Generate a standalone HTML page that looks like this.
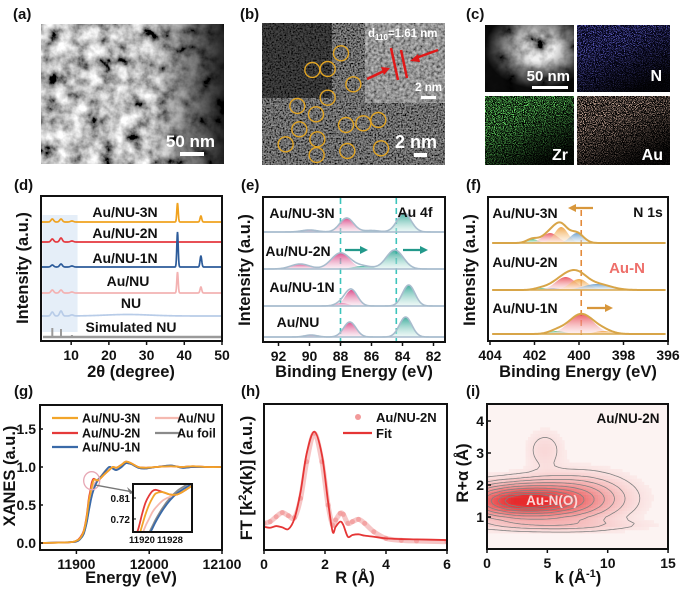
<!DOCTYPE html>
<html><head><meta charset="utf-8">
<style>
html,body{margin:0;padding:0;background:#fff;width:681px;height:591px;overflow:hidden}
svg{font-family:"Liberation Sans",Arial,sans-serif;font-weight:bold;display:block;overflow:hidden}
</style></head><body>
<svg id="fig" xmlns="http://www.w3.org/2000/svg" width="681" height="591" viewBox="0 0 681 591">
<defs>
 <filter id="fA" x="0" y="0" width="1" height="1"><feTurbulence type="fractalNoise" baseFrequency="0.07" numOctaves="4" seed="3"/><feColorMatrix type="matrix" values="1.8 0 0 0 -0.4  1.8 0 0 0 -0.4  1.8 0 0 0 -0.4  0 0 0 0 1"/></filter>
 <filter id="fB" x="0" y="0" width="1" height="1"><feTurbulence type="fractalNoise" baseFrequency="0.6" numOctaves="2" seed="5"/><feColorMatrix type="matrix" values="0.7 0 0 0 -0.2  0.7 0 0 0 -0.2  0.7 0 0 0 -0.2  0 0 0 0 1"/></filter>
 <filter id="fB2" x="0" y="0" width="1" height="1"><feTurbulence type="fractalNoise" baseFrequency="0.35" numOctaves="2" seed="8"/><feColorMatrix type="matrix" values="0.8 0 0 0 -0.1  0.8 0 0 0 -0.1  0.8 0 0 0 -0.1  0 0 0 0 1"/></filter>
 <filter id="fC" x="0" y="0" width="1" height="1"><feTurbulence type="fractalNoise" baseFrequency="0.06" numOctaves="4" seed="2"/><feColorMatrix type="matrix" values="2 0 0 0 -0.4  2 0 0 0 -0.4  2 0 0 0 -0.4  0 0 0 0 1"/></filter>
 <filter id="fN" x="0" y="0" width="1" height="1"><feTurbulence type="fractalNoise" baseFrequency="1.1" numOctaves="1" seed="11"/><feColorMatrix type="matrix" values="0 0 0 0 0.15  0 0 0 0 0.15  0 0 0 0 0.75  7 0 0 0 -3.6"/></filter>
 <filter id="fZ" x="0" y="0" width="1" height="1"><feTurbulence type="fractalNoise" baseFrequency="1.1" numOctaves="1" seed="4"/><feColorMatrix type="matrix" values="0 0 0 0 0.15  0 0 0 0 0.85  0 0 0 0 0.15  7 0 0 0 -3.3"/></filter>
 <filter id="fU" x="0" y="0" width="1" height="1"><feTurbulence type="fractalNoise" baseFrequency="1.1" numOctaves="1" seed="7"/><feColorMatrix type="matrix" values="0 0 0 0 0.75  0 0 0 0 0.5  0 0 0 0 0.4  7 0 0 0 -3.4"/></filter>
 <linearGradient id="gAr" x1="0" x2="1" y1="0" y2="0"><stop offset="0.6" stop-color="#000" stop-opacity="0"/><stop offset="1" stop-color="#000" stop-opacity="0.85"/></linearGradient>
 <radialGradient id="gC1" cx="0.6" cy="0.35" r="0.6"><stop offset="0.3" stop-color="#000" stop-opacity="0"/><stop offset="1" stop-color="#000" stop-opacity="0.95"/></radialGradient>
 <linearGradient id="gFade" x1="0" x2="0.6" y1="0" y2="1"><stop offset="0.35" stop-color="#000" stop-opacity="0"/><stop offset="1" stop-color="#000" stop-opacity="0.9"/></linearGradient>
 <linearGradient id="gPink" x1="0" x2="0" y1="0" y2="1"><stop offset="0" stop-color="#d6337a"/><stop offset="1" stop-color="#f6dce8" stop-opacity="0.5"/></linearGradient>
 <linearGradient id="gTeal" x1="0" x2="0" y1="0" y2="1"><stop offset="0" stop-color="#1f9e8c"/><stop offset="1" stop-color="#d8f0ec" stop-opacity="0.5"/></linearGradient>
 <linearGradient id="gRed" x1="0" x2="0" y1="0" y2="1"><stop offset="0" stop-color="#e8404a"/><stop offset="1" stop-color="#fbe0e0" stop-opacity="0.5"/></linearGradient>
 <linearGradient id="gOra" x1="0" x2="0" y1="0" y2="1"><stop offset="0" stop-color="#ee9a2e"/><stop offset="1" stop-color="#fdeedd" stop-opacity="0.5"/></linearGradient>
 <linearGradient id="gBlu" x1="0" x2="0" y1="0" y2="1"><stop offset="0" stop-color="#5b93c4"/><stop offset="1" stop-color="#e2eef8" stop-opacity="0.5"/></linearGradient>
 <linearGradient id="gGrn" x1="0" x2="0" y1="0" y2="1"><stop offset="0" stop-color="#2fae6a"/><stop offset="1" stop-color="#ddf3e6" stop-opacity="0.5"/></linearGradient>
 <clipPath id="clipG"><rect x="133" y="484" width="59" height="48"/></clipPath>
 <clipPath id="clipI"><rect x="487" y="404" width="181" height="145"/></clipPath>
 <clipPath id="clipH"><rect x="264" y="404" width="183" height="146"/></clipPath>
</defs>

<g font-size="15" fill="#111">
 <text x="13" y="19">(a)</text>
 <text x="240" y="19">(b)</text>
 <text x="466" y="19">(c)</text>
 <text x="14" y="190">(d)</text>
 <text x="241" y="190">(e)</text>
 <text x="466" y="190">(f)</text>
 <text x="14" y="396">(g)</text>
 <text x="241" y="396">(h)</text>
 <text x="466" y="396">(i)</text>
</g>

<g>
 <rect x="41" y="24" width="183" height="140" fill="#333" filter="url(#fA)"/>
 <rect x="41" y="24" width="183" height="140" fill="url(#gAr)"/>
 <text x="215" y="147" font-size="17" fill="#fff" text-anchor="end">50 nm</text>
 <rect x="180" y="152" width="24" height="4" fill="#fff"/>
</g>

<g>
 <rect x="262" y="23" width="183" height="142" fill="#222" filter="url(#fB)"/>
 <rect x="262" y="23" width="70" height="75" fill="#000" opacity="0.5"/>
 <rect x="365" y="23" width="80" height="80" fill="#555" filter="url(#fB2)"/>
 <g id="circles" fill="none" stroke="#e2a524" stroke-width="1.4"></g>
 <text x="368" y="37" font-size="11.5" fill="#fff">d<tspan font-size="8" dy="3">110</tspan><tspan dy="-3">=1.61 nm</tspan></text>
 <line x1="391" y1="48" x2="398" y2="80" stroke="#e01818" stroke-width="2.5"/>
 <line x1="401" y1="50" x2="407" y2="78" stroke="#e01818" stroke-width="2.5"/>
 <line x1="367" y1="79" x2="384" y2="71" stroke="#e01818" stroke-width="2.5"/>
 <polygon points="390,68 381,67 384,75" fill="#e01818"/>
 <line x1="438" y1="50" x2="416" y2="58" stroke="#e01818" stroke-width="2.5"/>
 <polygon points="410,61 418,54 420,62" fill="#e01818"/>
 <text x="442" y="91" font-size="11.5" fill="#fff" text-anchor="end">2 nm</text>
 <rect x="421" y="96" width="15" height="3" fill="#fff"/>
 <text x="437" y="148" font-size="18" fill="#fff" text-anchor="end">2 nm</text>
 <rect x="414" y="153" width="13" height="4" fill="#fff"/>
</g>

<g>
 <rect x="485" y="25" width="89" height="67" fill="#000"/>
 <rect x="485" y="25" width="89" height="67" fill="#888" filter="url(#fC)" opacity="0.95"/>
 <rect x="485" y="25" width="89" height="67" fill="url(#gC1)"/>
 <text x="570" y="81" font-size="15" fill="#fff" text-anchor="end">50 nm</text>
 <rect x="532" y="86" width="36" height="3" fill="#fff"/>
 <rect x="577" y="25" width="93" height="67" fill="#05051a"/>
 <rect x="577" y="25" width="93" height="67" filter="url(#fN)"/>
 <rect x="577" y="25" width="93" height="67" fill="url(#gFade)"/>
 <text x="662" y="81" font-size="16" fill="#fff" text-anchor="end">N</text>
 <rect x="485" y="96" width="89" height="69" fill="#000"/>
 <rect x="485" y="96" width="89" height="69" filter="url(#fZ)"/>
 <rect x="485" y="96" width="89" height="69" fill="url(#gFade)"/>
 <text x="568" y="160" font-size="16" fill="#fff" text-anchor="end">Zr</text>
 <rect x="577" y="96" width="93" height="69" fill="#000"/>
 <rect x="577" y="96" width="93" height="69" filter="url(#fU)"/>
 <rect x="577" y="96" width="93" height="69" fill="url(#gFade)"/>
 <text x="663" y="160" font-size="16" fill="#fff" text-anchor="end">Au</text>
</g>

<g id="chartD"></g>
<g id="chartE"></g>
<g id="chartF"></g>
<g id="chartG"></g>
<g id="chartH"></g>
<g id="chartI"></g>

<g font-size="16.5" fill="#111" text-anchor="middle">
 <text transform="translate(28,268) rotate(-90)">Intensity (a.u.)</text>
 <text x="131" y="377">2θ (degree)</text>
 <text transform="translate(250,270) rotate(-90)">Intensity (a.u.)</text>
 <text x="354" y="377">Binding Energy (eV)</text>
 <text transform="translate(475,270) rotate(-90)">Intensity (a.u.)</text>
 <text x="578" y="377">Binding Energy (eV)</text>
 <text transform="translate(15,476) rotate(-90)">XANES (a.u.)</text>
 <text x="131" y="583">Energy (eV)</text>
 <text transform="translate(252,478) rotate(-90)">FT [k<tspan font-size="11" dy="-6">2</tspan><tspan dy="6">x(k)] (a.u.)</tspan></text>
 <text x="355" y="583">R (Å)</text>
 <text transform="translate(468,473) rotate(-90)">R+α (Å)</text>
 <text x="578" y="583">k (Å<tspan font-size="11" dy="-6">-1</tspan><tspan dy="6">)</tspan></text>
</g>
</svg>
<script>
const particleMarks=[[243,100],[157,150],[203,147],[280,193],[203,233],[112,258],[168,283],[118,328],[258,315],[310,310],[355,300],[77,373],[172,358],[170,405],[262,393],[363,385]];
const xrdSeries=['Au/NU-3N','Au/NU-2N','Au/NU-1N','Au/NU','NU','Simulated NU'];
const xrdPeakPos=[5.0,7.3,10.2,38.2,44.4];
const xrdPeakWidth=[0.35,0.35,0.4,0.18,0.22];
const xrd3N=[3,3,1,19,6];
const xrd2N=[3,4,1,0,0];
const xrd1N=[2,3,1,35,11];
const xrdAuNU=[3,3,1,21,6];
const xrdNU=[4,5,1,0,0];
const xrdSim=[9,8,2,0,0];
const xrdOffset=[119,99,74,48,25,4];
const xrdTicks=[10,20,30,40,50];
const e3N=[[90.0,2,0.5,0],[87.6,14,0.45,0],[86.0,1.5,0.5,1],[83.9,19,0.45,1]];
const e2N=[[90.6,5,0.6,0],[88.0,16,0.6,0],[86.6,3,0.6,1],[84.5,19,0.55,1]];
const e1N=[[87.9,3,0.4,0],[87.3,16,0.4,0],[83.6,21,0.4,1]];
const eAuNU=[[89.9,2,0.4,0],[87.4,15,0.4,0],[83.8,20,0.4,1]];
const eLabels=['Au/NU-3N','Au/NU-2N','Au/NU-1N','Au/NU'];
const eOffset=[110,73,36,5];
const eTicks=[92,90,88,86,84,82];
const f3N=[[402.1,4,0.25,0],[401.3,10,0.35,1],[400.8,16,0.3,2],[400.1,10,0.3,3]];
const f2N=[[401.7,2,0.3,0],[401.2,2,0.3,3],[400.6,13,0.45,1],[400.0,11,0.4,2],[399.2,6,0.6,3]];
const f1N=[[401.0,3,0.35,0],[399.9,20,0.55,1],[398.9,3,0.4,2]];
const fLabels=['Au/NU-3N','Au/NU-2N','Au/NU-1N'];
const fOffset=[98,51,7];
const fTicks=[404,402,400,398,396];
const xanesE=[11850,11890,11900,11905,11910,11914,11917,11919,11920,11921,11922,11923,11924,11926,11928,11930,11932,11934,11938,11945,11950,11955,11962,11968,11975,11985,11995,12010,12030,12045,12060,12080,12100];
const xanes2N=[0,.01,.03,.07,.16,.35,.58,.68,.74,.79,.82,.84,.845,.835,.825,.825,.84,.86,.9,.96,1.0,.99,1.03,1.07,1.05,1.0,.99,1.0,1.01,1.0,1.01,1.0,1.0];
const xanes3N=[0,.01,.03,.06,.15,.33,.55,.64,.69,.74,.78,.81,.83,.835,.825,.825,.84,.86,.9,.96,1.0,.99,1.03,1.07,1.05,1.0,.99,1.0,1.01,1.0,1.01,1.0,1.0];
const xanesAuNU=[0,.01,.03,.06,.14,.30,.50,.60,.65,.69,.72,.75,.77,.80,.815,.825,.84,.86,.9,.96,1.0,.99,1.03,1.07,1.05,1.0,.99,1.0,1.01,1.0,1.01,1.0,1.0];
const xanes1N=[0,.01,.02,.05,.12,.26,.42,.52,.57,.61,.65,.68,.71,.76,.80,.83,.85,.87,.92,1.0,.98,.96,1.0,1.05,1.04,.99,.98,1.0,1.02,.99,1.0,1.0,1.0];
const xanesFoil=[0,.01,.02,.05,.12,.27,.44,.54,.59,.63,.66,.69,.72,.77,.81,.84,.86,.88,.93,1.0,.98,.96,1.0,1.05,1.04,.99,.98,1.0,1.02,.99,1.0,1.0,1.0];
const xanesXTicks=[11900,12000,12100];
const xanesYTicks=[0.0,0.5,1.0,1.5];
const insetXTicks=[11920,11928];
const insetYTicks=[0.72,0.81];
const ftR=[0,0.2,0.4,0.6,0.8,1.0,1.2,1.4,1.65,1.9,2.1,2.25,2.35,2.5,2.6,2.75,2.9,3.1,3.3,3.6,4.0,4.5,5,6];
const ftFit=[.136,.127,.142,.130,.115,.212,.455,.803,1.0,.788,.364,.091,.136,.182,.152,.045,.061,.067,.055,.045,.030,.024,.021,.015];
const ftData=[.167,.182,.227,.264,.236,.218,.394,.727,.985,.727,.333,.152,.197,.258,.248,.167,.182,.203,.167,.091,.030,.012,.006,0];
const ftTicks=[0,2,4,6];
const wtK=[3,7.5,4.8,5.5];
const wtR=[1.5,1.6,3.1,0.75];
const wtAmp=[1,0.32,0.08,0.12];
const wtSK=[3,2.6,1.0,4.5];
const wtSR=[0.33,0.45,0.4,0.12];
const wtLevels=[0.05,0.12,0.2,0.3,0.42,0.55,0.68,0.8,0.9];
const wtXTicks=[0,5,10,15];
const wtYTicks=[1,2,3,4];

const NS='http://www.w3.org/2000/svg';
function mk(tag,attrs,parent){const e=document.createElementNS(NS,tag);for(const k in attrs)e.setAttribute(k,attrs[k]);parent.appendChild(e);return e;}
function smooth(p){let d='M'+p[0][0].toFixed(2)+','+p[0][1].toFixed(2);for(let i=0;i<p.length-1;i++){const p0=p[i-1]||p[i],p1=p[i],p2=p[i+1],p3=p[i+2]||p2;const c1=[p1[0]+(p2[0]-p0[0])/6,p1[1]+(p2[1]-p0[1])/6],c2=[p2[0]-(p3[0]-p1[0])/6,p2[1]-(p3[1]-p1[1])/6];d+='C'+c1[0].toFixed(2)+','+c1[1].toFixed(2)+' '+c2[0].toFixed(2)+','+c2[1].toFixed(2)+' '+p2[0].toFixed(2)+','+p2[1].toFixed(2);}return d;}
function poly(p){return 'M'+p.map(q=>q[0].toFixed(2)+','+q[1].toFixed(2)).join('L');}
const gauss=(x,c,s)=>Math.exp(-(x-c)*(x-c)/(2*s*s));
function box(g,x,y,w,h,name){const r=mk('rect',{x:x,y:y,width:w,height:h,fill:'none',stroke:'#111','stroke-width':2},g);

}
function xTicks(g,ticks,sx,y0,fs,name){ticks.forEach(t=>{const x=sx(t);mk('line',{x1:x,y1:y0,x2:x,y2:y0+4,stroke:'#111','stroke-width':1.5},g);const tx=mk('text',{x:x,y:y0+19,'font-size':fs,'text-anchor':'middle',fill:'#111'},g);tx.textContent=String(t);

});}
function yTicks(g,ticks,sy,x0,fs,name,fmt){ticks.forEach(t=>{const y=sy(t);mk('line',{x1:x0,y1:y,x2:x0+4,y2:y,stroke:'#111','stroke-width':1.5},g);const tx=mk('text',{x:x0-3,y:y+5,'font-size':fs,'text-anchor':'end',fill:'#111'},g);tx.textContent=fmt?fmt(t):String(t);

});}
function label(g,x,y,txt,fs,col,anchor,name){const t=mk('text',{x:x,y:y,'font-size':fs,fill:col||'#111','text-anchor':anchor||'middle'},g);t.textContent=txt;

return t;}

const cg0=document.getElementById('circles');
particleMarks.forEach(p=>{const c=mk('circle',{cx:260+p[0]/3,cy:20+p[1]/3,r:7.5},cg0);

});

(function(){const g=document.getElementById('chartD');
const X0=41,X1=222,Y1=341;const sx=v=>X0+(v-2)*(X1-X0)/48;const sy=v=>Y1-v;
const sh=mk('rect',{x:sx(2.4),y:215,width:sx(11.7)-sx(2.4),height:117,fill:'#dce8f6',opacity:0.75},g);


const all=[xrd3N,xrd2N,xrd1N,xrdAuNU,xrdNU,xrdSim];const cols=['#f0a21f','#e5383e','#2c5b9a','#f3b2b2','#b8cce8','#9a9a9a'];
const names=['xrd-curve-3n','xrd-curve-2n','xrd-curve-1n','xrd-curve-aunu','xrd-curve-nu','xrd-simulated'];
all.forEach((h,si)=>{if(si===5){const b=mk('line',{x1:X0+2,y1:sy(xrdOffset[5]),x2:X1-1,y2:sy(xrdOffset[5]),stroke:cols[5],'stroke-width':2.5},g);


xrdPeakPos.forEach((p,i)=>{if(h[i]>0){const s=mk('line',{x1:sx(p),y1:sy(xrdOffset[5]),x2:sx(p),y2:sy(xrdOffset[5]+h[i]),stroke:cols[5],'stroke-width':2},g);

}});return;}
const pts=[];for(let x=2.2;x<=50;x+=0.08){let v=xrdOffset[si];xrdPeakPos.forEach((p,i)=>v+=h[i]*gauss(x,p,xrdPeakWidth[i]));if(si===4)v+=1.5*gauss(x,25,6);pts.push([sx(x),sy(v)]);}
const pa=mk('path',{d:poly(pts),fill:'none',stroke:cols[si],'stroke-width':1.7},g);

});
const ly=[212,233,258,281,303,327];const lx=[125,125,125,128,131,131];
xrdSeries.forEach((s,i)=>label(g,lx[i],ly[i]+5,s,14,'#111','middle','xrd-series-label'));
box(g,X0,196,X1-X0,145,'plot-frame-d');xTicks(g,xrdTicks,sx,Y1,14,'x-tick-label-d');})();

function xps(g,sets,offs,sx,Y1,grads,envCol,envW,names){sets.forEach((comps,si)=>{const base=Y1-offs[si];const xs=[];const [a,b]=sx.dom;for(let x=a;x>=b;x-=0.04)xs.push(x);
comps.forEach(c=>{const pts=xs.map(x=>[sx(x),base-c[1]*gauss(x,c[0],c[2])]).filter((p,i)=>Math.abs(xs[i]-c[0])<3.5*c[2]);const d=poly(pts)+'L'+pts[pts.length-1][0].toFixed(2)+','+base+'L'+pts[0][0].toFixed(2)+','+base+'Z';const pa=mk('path',{d:d,fill:grads[c[3]],opacity:0.85},g);

});
const bl=mk('line',{x1:sx(a),y1:base,x2:sx(b),y2:base,stroke:envCol,'stroke-width':1.6},g);


const env=xs.map(x=>{let v=0;comps.forEach(c=>v+=c[1]*gauss(x,c[0],c[2]));return [sx(x),base-v];});
const ep=mk('path',{d:poly(env),fill:'none',stroke:envCol,'stroke-width':envW},g);

});}
function arrow(g,x1,x2,y,col,name){const dir=Math.sign(x2-x1);const l=mk('line',{x1:x1,y1:y,x2:x2-dir*6,y2:y,stroke:col,'stroke-width':2.2},g);


const p=mk('polygon',{points:x2+','+y+' '+(x2-dir*8)+','+(y-4)+' '+(x2-dir*8)+','+(y+4),fill:col},g);

}

(function(){const g=document.getElementById('chartE');const X0=263,X1=445,Y1=342;
const sx=v=>278.5+(92-v)*15.5;sx.dom=[93,81.3];
[88,84.4].forEach(v=>{const l=mk('line',{x1:sx(v),y1:198,x2:sx(v),y2:Y1,stroke:'#3cc4bb','stroke-width':1.6,'stroke-dasharray':'6,4'},g);

});
xps(g,[e3N,e2N,e1N,eAuNU],eOffset,sx,Y1,['url(#gPink)','url(#gTeal)'],'#a8bccd',1.6,['envelope-3n','envelope-2n','envelope-1n','envelope-aunu']);
const ly=[213,251,287,322];const lx=[302,298,302,298];
eLabels.forEach((s,i)=>label(g,lx[i],ly[i]+5,s,14,'#111','middle','xps-series-label'));
label(g,415,217,'Au 4f',14,'#111','middle','core-level-label');
arrow(g,345,368,250,'#23998b','shift-arrow');arrow(g,403,428,250,'#23998b','shift-arrow');
box(g,X0,197,X1-X0,145,'plot-frame-e');xTicks(g,eTicks,sx,Y1,14,'x-tick-label-e');})();

(function(){const g=document.getElementById('chartF');const X0=488,X1=668,Y1=341;
const sx=v=>490+(404-v)*22.25;sx.dom=[403.9,396.1];
const dl=mk('line',{x1:sx(399.9),y1:210,x2:sx(399.9),y2:335,stroke:'#e38a3a','stroke-width':1.6,'stroke-dasharray':'6,4'},g);


xps(g,[f3N,f2N,f1N],fOffset,sx,Y1,['url(#gGrn)','url(#gRed)','url(#gOra)','url(#gBlu)'],'#d8a548',2,['envelope-3n','envelope-2n','envelope-1n']);
const ly=[213,262,308];fLabels.forEach((s,i)=>label(g,525,ly[i]+5,s,14,'#111','middle','xps-series-label'));
label(g,648,217,'N 1s',14,'#111','middle','core-level-label');
label(g,627,273,'Au-N',15,'#ee6f6a','middle','au-n-annotation');
arrow(g,593,568,208,'#d8973c','shift-arrow');arrow(g,587,613,308,'#d8973c','shift-arrow');
box(g,X0,197,X1-X0,144,'plot-frame-f');xTicks(g,fTicks,sx,Y1,14,'x-tick-label-f');})();

(function(){const g=document.getElementById('chartG');const X0=40,X1=222,Y0=405,Y1=550;
const sx=E=>40+(E-11850)*182/250;const sy=m=>543-m*76;
const series=[[xanesFoil,'#8a8a8a','xanes-au-foil'],[xanesAuNU,'#f5b9b0','xanes-aunu'],[xanes1N,'#3a6aa8','xanes-1n'],[xanes2N,'#e53a3a','xanes-2n'],[xanes3N,'#f2a52a','xanes-3n']];
series.forEach(s=>{const pts=xanesE.map((e,i)=>[sx(e),sy(s[0][i])]);const p=mk('path',{d:smooth(pts),fill:'none',stroke:s[1],'stroke-width':1.8},g);

});
const ring=mk('ellipse',{cx:sx(11921),cy:sy(0.82),rx:8,ry:9,fill:'none',stroke:'#e7a7b4','stroke-width':1.3},g);


const ar=mk('line',{x1:sx(11927),y1:sy(0.76),x2:133,y2:492,stroke:'#777','stroke-width':1.4},g);


mk('polygon',{points:'134,493 127,487 130,494',fill:'#777'},g);
const ix=E=>142+(E-11920)*3.5;const iy=m=>498-(m-0.81)*233;
const ibg=mk('rect',{x:133,y:484,width:59,height:48,fill:'#fff'},g);


const ig=mk('g',{'clip-path':'url(#clipG)'},g);
series.forEach(s=>{const pts=xanesE.map((e,i)=>[ix(e),iy(s[0][i])]);const p=mk('path',{d:smooth(pts),fill:'none',stroke:s[1],'stroke-width':1.8},ig);

});
box(g,133,484,59,48,'inset-frame');
insetXTicks.forEach(t=>{label(g,ix(t),543,String(t),9.5,'#111','middle','inset-x-tick');});
insetYTicks.forEach(t=>{mk('line',{x1:133,y1:iy(t),x2:136,y2:iy(t),stroke:'#111'},g);label(g,130,iy(t)+4,t.toFixed(2),10,'#111','end','inset-y-tick');});
const leg=[['Au/NU-3N','#f2a52a',52,82,418],['Au/NU-2N','#e53a3a',52,82,433],['Au/NU-1N','#3a6aa8',52,82,447],['Au/NU','#f5b9b0',155,177,418],['Au foil','#8a8a8a',155,177,433]];
leg.forEach(l=>{const ln=mk('line',{x1:l[2],y1:l[4],x2:l[2]+26,y2:l[4],stroke:l[1],'stroke-width':2.2},g);


label(g,l[3],l[4]+4.5,l[0],12.5,'#111','start','legend-entry');});
box(g,X0,Y0,X1-X0,Y1-Y0,'plot-frame-g');xTicks(g,xanesXTicks,sx,Y1,14,'x-tick-label-g');yTicks(g,xanesYTicks,sy,X0-1,14,'y-tick-label-g',t=>t.toFixed(1));})();

(function(){const g=document.getElementById('chartH');const X0=264,X1=447,Y0=404,Y1=550;
const sx=r=>264+r*30.5;const sy=v=>541.7-v*110;
const cg=mk('g',{'clip-path':'url(#clipH)'},g);
const dpts=ftR.map((r,i)=>[sx(r),sy(ftData[i])]);
const band=mk('path',{d:smooth(dpts),fill:'none',stroke:'#f4b8b8','stroke-width':5,opacity:0.8},cg);


ftR.forEach((r,i)=>{const c=mk('circle',{cx:sx(r),cy:sy(ftData[i]),r:2.5,fill:'#f29a9a',opacity:0.8},cg);

});
const fp=mk('path',{d:smooth(ftR.map((r,i)=>[sx(r),sy(ftFit[i])])),fill:'none',stroke:'#e53535','stroke-width':1.8},cg);


const ld=mk('circle',{cx:358,cy:417,r:3,fill:'#f29a9a'},g);


label(g,376,422,'Au/NU-2N',13,'#111','start','legend-entry');
const ll=mk('line',{x1:343,y1:433,x2:372,y2:433,stroke:'#e53535','stroke-width':2.2},g);


label(g,376,438,'Fit',13,'#111','start','legend-entry');
box(g,X0,Y0,X1-X0,Y1-Y0,'plot-frame-h');xTicks(g,ftTicks,sx,Y1,14,'x-tick-label-h');})();

(function(){const g=document.getElementById('chartI');const X0=487,X1=668,Y0=404,Y1=549;
const sx=k=>487+k*12.07;const sy=r=>549-r*32;
const field=(k,r)=>{let v=0;for(let i=0;i<wtK.length;i++)v+=wtAmp[i]*Math.exp(-((k-wtK[i])**2)/(2*wtSK[i]**2)-((r-wtR[i])**2)/(2*wtSR[i]**2));return v;};
const cg=mk('g',{'clip-path':'url(#clipI)'},g);
const bg=mk('rect',{x:X0,y:Y0,width:X1-X0,height:Y1-Y0,fill:'#fcf3f2'},cg);


const dk=0.2,dr=0.1,nk=75,nr=45;
for(let i=0;i<nk;i++)for(let j=0;j<nr;j++){const v=Math.min(1,field((i+0.5)*dk,(j+0.5)*dr));if(v<0.02)continue;const t=Math.pow(v,0.8);
const rr=Math.round(252-t*22),gg=Math.round(243-t*200),bb=Math.round(242-t*197);
const c=mk('rect',{x:sx(i*dk).toFixed(2),y:sy((j+1)*dr).toFixed(2),width:(dk*12.07+0.4).toFixed(2),height:(dr*32+0.4).toFixed(2),fill:'rgb('+rr+','+gg+','+bb+')'},cg);

}
const V=[];for(let i=0;i<=nk;i++){V[i]=[];for(let j=0;j<=nr;j++)V[i][j]=field(i*dk,j*dr);}
wtLevels.forEach(L=>{let d='';for(let i=0;i<nk;i++)for(let j=0;j<nr;j++){const c=[[i,j],[i+1,j],[i+1,j+1],[i,j+1]];const pts=[];for(let e=0;e<4;e++){const a=c[e],b=c[(e+1)%4];const va=V[a[0]][a[1]],vb=V[b[0]][b[1]];if((va-L)*(vb-L)<0){const t=(L-va)/(vb-va);pts.push([sx((a[0]+t*(b[0]-a[0]))*dk),sy((a[1]+t*(b[1]-a[1]))*dr)]);}}
for(let p=0;p+1<pts.length;p+=2)d+='M'+pts[p][0].toFixed(1)+','+pts[p][1].toFixed(1)+'L'+pts[p+1][0].toFixed(1)+','+pts[p+1][1].toFixed(1);}
const cp=mk('path',{d:d,fill:'none',stroke:'#808080','stroke-width':0.8},cg);

});
label(g,552,505,'Au-N(O)',13.5,'#fbd6d6','middle','au-n-o-annotation');
label(g,628,423,'Au/NU-2N',13.5,'#111','middle','sample-label');
box(g,X0,Y0,X1-X0,Y1-Y0,'plot-frame-i');xTicks(g,wtXTicks,sx,Y1,14,'x-tick-label-i');yTicks(g,wtYTicks,sy,X0,14,'y-tick-label-i');})();
</script>
</body></html>
